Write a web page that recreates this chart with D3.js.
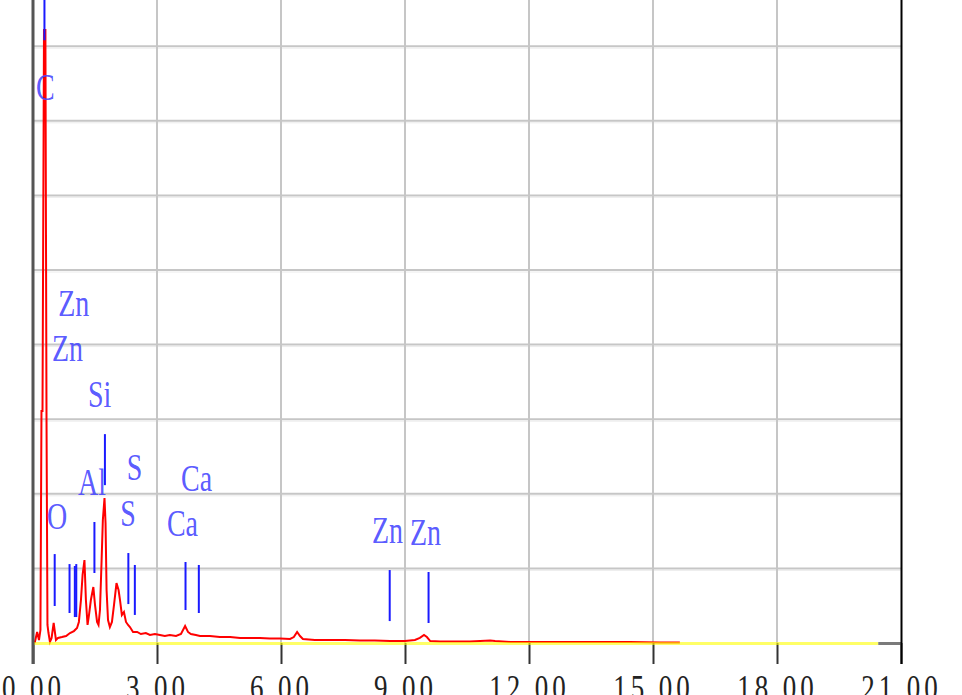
<!DOCTYPE html>
<html>
<head>
<meta charset="utf-8">
<script src="https://cdn.jsdelivr.net/npm/d3@7"></script>
<style>
  html, body { margin: 0; padding: 0; background: #ffffff; overflow: hidden; }
  svg { display: block; }
</style>
</head>
<body>
<svg id="chart" width="962" height="695"></svg>
<script>
// ---------------- DATA ----------------
// Spectrum: energy (keV) and counts
const energy = [0.04,0.10,0.145,0.18,0.205,0.23,0.266,0.30,0.327,0.35,0.375,0.41,0.45,0.50,0.556,0.605,0.70,0.80,0.895,0.99,
  1.065,1.11,1.16,1.20,1.245,1.28,1.32,1.355,1.40,1.46,1.50,1.55,1.585,1.62,1.66,1.69,1.73,1.755,1.78,1.815,
  1.86,1.91,1.96,2.02,2.07,2.105,2.15,2.20,2.25,2.30,2.345,2.42,2.52,2.61,2.73,2.83,2.95,3.07,3.19,3.31,
  3.46,3.58,3.68,3.75,3.82,3.94,4.04,4.28,4.52,4.77,5.01,5.25,5.49,5.73,5.98,6.22,6.31,6.39,6.46,6.53,
  6.82,7.19,7.55,7.91,8.27,8.64,9.0,9.24,9.36,9.46,9.53,9.61,9.85,10.2,10.57,11.06,11.18,11.54,12.27,13.0,
  13.72,14.44,15.17,15.65];
const counts = [0,74,20,87,1555,1555,4108,4108,1495,121,67,7,34,134,20,34,40,47,67,80,
  101,141,288,456,556,288,121,188,288,375,255,141,121,221,556,824,972,804,355,154,
  107,141,255,402,355,288,188,208,141,121,107,74,74,60,67,54,60,54,47,54,
  47,60,114,74,60,54,47,47,40,40,34,34,34,30,30,27,40,74,47,27,
  20,20,20,17,17,13,13,20,34,54,40,13,10,10,10,17,13,7,7,7,
  7,7,3,3];

// Element marker lines: energy (keV), top and bottom (counts)
const markerEnergy = [0.277, 0.525, 0.884, 1.012, 1.047, 1.486, 1.740, 2.307, 2.464, 3.690, 4.012, 8.630, 9.570];
const markerTop    = [4510, 596, 529, 516, 529, 811, 1400, 603, 523, 543, 523, 489, 476];
const markerBottom = [4040, 248, 201, 174, 174, 469, 1058, 261, 188, 221, 201, 147, 134];

// Element labels: text, anchor energy (keV, left edge), baseline (counts)
const labelText   = ["C", "Zn", "Zn", "Si", "Al", "O", "S", "S", "Ca", "Ca", "Zn", "Zn"];
const labelEnergy = [0.07, 0.61, 0.46, 1.33, 1.09, 0.34, 2.27, 2.11, 3.58, 3.24, 8.20, 9.12];
const labelCount  = [3640, 2195, 1890, 1580, 995, 765, 1090, 785, 1020, 720, 670, 657];

// Axis ticks
const xTicks = [0, 3, 6, 9, 12, 15, 18, 21];
const xTickLabels = ["0.00", "3.00", "6.00", "9.00", "12.00", "15.00", "18.00", "21.00"];
const yGrid = [500, 1000, 1500, 2000, 2500, 3000, 3500, 4000, 4500];
const baselineEnd = 20.45;

// ---------------- CHART ----------------
const svg = d3.select("#chart");
const x = d3.scaleLinear().domain([0, 21]).range([33, 901]);
const y = d3.scaleLinear().domain([0, 4000]).range([643, 46.2]);
const yTopPx = -5;

// grid
const grid = svg.append("g");
grid.selectAll("line.h").data(yGrid).join("line")
  .attr("x1", x(0)).attr("x2", x(21))
  .attr("y1", d => y(d)).attr("y2", d => y(d))
  .attr("stroke", "#c6c6c6").attr("stroke-width", 2);
grid.selectAll("line.hl").data(yGrid).join("line")
  .attr("x1", x(0)).attr("x2", x(21))
  .attr("y1", d => y(d) + 2).attr("y2", d => y(d) + 2)
  .attr("stroke", "#ececec").attr("stroke-width", 1);
grid.selectAll("line.v").data(xTicks.filter(d => d > 0 && d < 21)).join("line")
  .attr("x1", d => x(d)).attr("x2", d => x(d))
  .attr("y1", yTopPx).attr("y2", y(0))
  .attr("stroke", "#c6c6c6").attr("stroke-width", 2);

// bottom axis using d3.axisBottom
const xAxis = d3.axisBottom(x).tickValues(xTicks)
  .tickFormat((d, i) => xTickLabels[i]).tickSize(21).tickPadding(12);
const gx = svg.append("g").attr("transform", `translate(0, ${y(0)})`).call(xAxis);
gx.select(".domain").remove();
gx.selectAll(".tick line").attr("stroke", "#333").attr("stroke-width", 2);
gx.selectAll(".tick text")
  .attr("fill", "#222")
  .attr("font-family", "'Liberation Serif', 'DejaVu Serif', serif")
  .attr("font-size", 27)
  .attr("letter-spacing", 4)
  .attr("dy", 0)
  .attr("y", 0)
  .attr("transform", "translate(0, 57) scale(1, 1.35)");

// spectrum
const line = d3.line().x((d, i) => x(energy[i])).y((d, i) => y(counts[i]));
svg.append("path").datum(counts)
  .attr("d", line)
  .attr("fill", "none")
  .attr("stroke", "#ff0000")
  .attr("stroke-width", 2)
  .attr("stroke-linejoin", "miter");

// baseline (yellow translucent over red -> orange overlap), gray end segment
svg.append("line")
  .attr("x1", x(0)).attr("x2", x(baselineEnd))
  .attr("y1", y(0) + 0.5).attr("y2", y(0) + 0.5)
  .attr("stroke", "#ffff00").attr("stroke-opacity", 0.6).attr("stroke-width", 3);
svg.append("line")
  .attr("x1", x(baselineEnd)).attr("x2", x(21))
  .attr("y1", y(0) + 0.5).attr("y2", y(0) + 0.5)
  .attr("stroke", "#7a7a7a").attr("stroke-width", 3);

// marker lines
svg.append("g").selectAll("line").data(markerEnergy).join("line")
  .attr("x1", d => x(d)).attr("x2", d => x(d))
  .attr("y1", (d, i) => y(markerTop[i])).attr("y2", (d, i) => y(markerBottom[i]))
  .attr("stroke", "#1a1aff").attr("stroke-width", 2);

// labels
svg.append("g").selectAll("text").data(labelText).join("text")
  .attr("transform", (d, i) => `translate(${x(labelEnergy[i])}, ${y(labelCount[i])}) scale(1, 1.35)`)
  .attr("font-family", "'Liberation Serif', 'DejaVu Serif', serif")
  .attr("font-size", 28)
  .attr("fill", "#4646ff")
  .attr("fill-opacity", 0.9)
  .text(d => d);

// left axis and right border
svg.append("line")
  .attr("x1", x(0)).attr("x2", x(0))
  .attr("y1", yTopPx).attr("y2", y(0) + 21)
  .attr("stroke", "#555").attr("stroke-width", 3);
svg.append("line")
  .attr("x1", x(21) + 0.5).attr("x2", x(21) + 0.5)
  .attr("y1", yTopPx).attr("y2", y(0) + 21)
  .attr("stroke", "#000").attr("stroke-width", 2);
</script>
</body>
</html>
